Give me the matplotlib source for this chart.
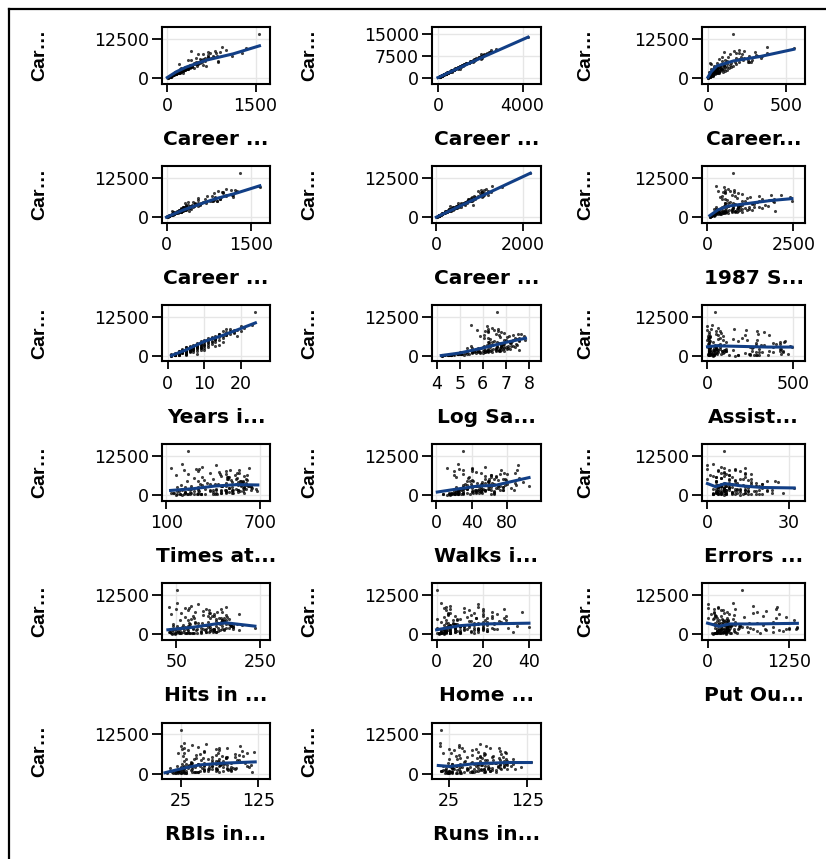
import numpy as np
import matplotlib
matplotlib.use("Agg")
import matplotlib.pyplot as plt
from matplotlib.lines import Line2D

years = [14, 3, 11, 2, 11, 2, 3, 2, 13, 10,
         9, 4, 6, 13, 15, 5, 8, 1, 1, 20,
         23, 17, 16, 17, 18, 14, 10, 12, 11, 13,
         9, 5, 5, 14, 13, 14, 8, 5, 6, 9,
         8, 1, 2, 1, 3, 4, 6, 7, 8, 9,
         10, 12, 13, 14, 16, 15, 17, 18, 19, 20,
         5, 6, 7, 4, 3, 2, 5, 6, 8, 9,
         10, 11, 12, 7, 3, 2, 1, 1, 4, 3,
         5, 6, 8, 10, 11, 12, 13, 14, 15, 9,
         10, 8, 6, 7, 11, 4, 2, 3, 16, 18,
         21, 19, 16, 12, 9, 7, 5, 3, 2, 1,
         6, 8, 13, 4, 5, 10, 15, 11, 3, 6, 24,
         2, 3, 4, 5, 1, 2, 3, 4, 6, 7,
         5, 4, 3, 2, 6, 7, 8, 9, 5, 4,
         3, 2, 1, 1, 6, 5, 8, 7, 6, 9,
         10, 4, 3, 2, 5, 7, 8, 3, 4, 6]
career_at_bat = [3449, 1624, 5628, 396, 4408, 214, 509, 341, 5206, 4631,
                 1876, 1512, 1941, 3231, 8068, 479, 727, 413, 426, 9528,
                 9778, 8759, 8750, 8128, 8247, 7023, 5017, 5686, 5079, 6521,
                 4880, 2028, 2950, 7127, 5429, 6675, 3112, 2810, 3210, 4000,
                 3800, 600, 700, 236, 1000, 1400, 2400, 2800, 3400, 3700,
                 3900, 4900, 5500, 6000, 6700, 5800, 7200, 7600, 8400, 7900,
                 1900, 1800, 2100, 1300, 900, 600, 1600, 2600, 2200, 3000,
                 2500, 4200, 4400, 3300, 1200, 800, 300, 160, 900, 700,
                 1100, 1500, 1700, 3100, 3600, 3900, 4600, 5200, 6300, 4200,
                 4700, 3500, 2300, 2700, 5300, 1600, 550, 1400, 6900, 7400,
                 9000, 6500, 7800, 6200, 2600, 1200, 700, 450, 300, 200,
                 3000, 4100, 5900, 2200, 2300, 2000, 4600, 3000, 1300, 2200, 14053,
                 580, 1100, 1700, 2100, 320, 450, 1300, 1500, 2000, 2400,
                 1400, 1000, 600, 350, 1700, 2600, 2900, 2700, 1800, 1200,
                 800, 700, 250, 400, 2500, 1500, 3000, 1900, 1200, 3300,
                 3500, 1900, 1600, 900, 800, 3500, 2500, 500, 1400, 2800]
career_hits = [835, 457, 1575, 101, 1133, 42, 108, 86, 1332, 1300,
               467, 392, 510, 825, 2273, 102, 180, 92, 109, 2510,
               2732, 2452, 2558, 2042, 2198, 1925, 1481, 1519, 1447, 2024,
               1237, 684, 1046, 2032, 1640, 2095, 928, 803, 927, 1100,
               1100, 144, 180, 56, 270, 360, 640, 740, 930, 1000,
               1050, 1330, 1500, 1650, 1800, 1620, 1950, 2100, 2300, 2150,
               500, 450, 560, 340, 240, 150, 430, 720, 560, 800,
               640, 1150, 1220, 920, 330, 210, 75, 40, 210, 170,
               270, 380, 420, 820, 950, 1060, 1280, 1420, 1750, 1180,
               1320, 980, 640, 770, 1500, 460, 145, 400, 1900, 2050,
               2400, 1700, 2200, 1750, 680, 290, 160, 110, 72, 48,
               830, 1200, 1700, 650, 600, 510, 1230, 780, 370, 620, 4256,
               150, 300, 470, 570, 82, 112, 360, 390, 540, 630,
               350, 250, 150, 90, 440, 700, 790, 700, 480, 310,
               200, 185, 62, 100, 700, 420, 810, 490, 290, 900,
               930, 530, 440, 240, 190, 980, 650, 125, 370, 780]
career_home_runs = [69, 63, 225, 12, 19, 1, 0, 6, 253, 90,
                    15, 41, 4, 36, 177, 5, 24, 16, 3, 548,
                    379, 229, 167, 378, 100, 348, 275, 257, 265, 341,
                    16, 93, 36, 322, 122, 209, 53, 84, 133, 100,
                    80, 33, 15, 6, 20, 25, 80, 60, 120, 60,
                    160, 150, 90, 200, 130, 110, 260, 140, 300, 200,
                    40, 20, 70, 10, 30, 5, 60, 40, 30, 100,
                    50, 80, 180, 40, 35, 12, 2, 3, 15, 10,
                    20, 15, 35, 60, 110, 40, 120, 200, 230, 140,
                    60, 150, 30, 120, 170, 50, 20, 15, 90, 310,
                    200, 180, 220, 70, 90, 25, 8, 4, 8, 1,
                    20, 100, 280, 45, 110, 25, 100, 60, 30, 70, 160,
                    10, 25, 35, 50, 4, 2, 20, 30, 45, 60,
                    30, 8, 12, 8, 25, 50, 90, 60, 70, 15,
                    6, 18, 2, 10, 35, 10, 40, 45, 20, 80,
                    50, 60, 40, 30, 10, 90, 40, 5, 45, 70]
career_runs = [321, 224, 828, 48, 501, 30, 41, 32, 784, 702,
               192, 205, 309, 376, 1045, 65, 67, 72, 55, 1509,
               1272, 1028, 1088, 1249, 950, 1196, 814, 761, 793, 1063,
               655, 335, 486, 1102, 854, 1072, 561, 457, 529, 650,
               850, 85, 90, 41, 120, 180, 320, 370, 470, 500,
               560, 680, 720, 800, 870, 730, 1020, 1000, 1200, 1050,
               240, 230, 280, 160, 120, 75, 230, 340, 260, 400,
               290, 560, 640, 480, 160, 110, 35, 20, 100, 85,
               120, 190, 200, 380, 460, 500, 610, 700, 880, 620,
               690, 520, 380, 400, 770, 240, 80, 210, 950, 1080,
               1150, 820, 1100, 900, 330, 140, 80, 50, 35, 25,
               440, 640, 880, 330, 310, 240, 560, 360, 170, 320, 2165,
               70, 140, 220, 280, 40, 55, 170, 190, 260, 310,
               170, 120, 70, 45, 210, 340, 380, 330, 250, 150,
               100, 90, 30, 52, 360, 220, 400, 230, 140, 440,
               470, 270, 220, 120, 95, 500, 300, 60, 180, 400]
career_rbi = [414, 266, 838, 46, 336, 9, 37, 34, 890, 504,
              186, 204, 103, 290, 993, 23, 82, 48, 43, 1659,
              1652, 1221, 1148, 1230, 909, 1166, 903, 956, 828, 1189,
              391, 404, 331, 1189, 850, 1050, 296, 317, 472, 450,
              350, 117, 80, 19, 110, 150, 330, 320, 480, 430,
              600, 650, 560, 860, 800, 680, 1050, 850, 1250, 1000,
              230, 170, 290, 110, 130, 50, 250, 280, 230, 420,
              300, 500, 700, 310, 170, 85, 25, 15, 95, 70,
              120, 140, 210, 350, 480, 380, 620, 780, 960, 600,
              470, 560, 220, 430, 800, 220, 85, 140, 720, 1150,
              1050, 870, 1000, 560, 360, 130, 60, 40, 38, 18,
              260, 500, 950, 270, 350, 200, 560, 340, 170, 320, 1314,
              60, 130, 200, 270, 30, 35, 150, 180, 240, 300,
              160, 90, 65, 40, 180, 300, 400, 310, 260, 120,
              70, 90, 22, 45, 250, 120, 320, 230, 130, 410,
              340, 270, 210, 130, 80, 460, 250, 45, 200, 360]
career_walks = [375, 263, 354, 33, 194, 24, 12, 8, 866, 488,
                161, 203, 207, 238, 732, 39, 56, 65, 62, 1342,
                925, 817, 395, 1270, 690, 1105, 596, 572, 521, 486,
                559, 131, 360, 837, 867, 695, 450, 222, 313, 500,
                650, 65, 50, 21, 90, 140, 200, 240, 330, 300,
                420, 520, 640, 560, 700, 410, 780, 520, 900, 820,
                170, 180, 200, 95, 80, 40, 210, 220, 250, 330,
                280, 380, 450, 390, 120, 70, 24, 12, 70, 60,
                110, 120, 180, 280, 350, 420, 500, 560, 640, 400,
                460, 420, 270, 290, 480, 200, 50, 130, 800, 700,
                1000, 750, 600, 600, 300, 120, 65, 35, 20, 15,
                300, 600, 620, 230, 240, 230, 520, 360, 110, 220, 1566,
                55, 100, 150, 210, 28, 30, 130, 160, 220, 260,
                150, 80, 50, 30, 190, 280, 320, 290, 190, 110,
                60, 60, 18, 38, 300, 150, 300, 200, 140, 350,
                400, 180, 170, 100, 75, 380, 240, 40, 150, 310]
at_bat = [315, 479, 496, 321, 594, 185, 298, 323, 401, 574,
          202, 418, 239, 196, 568, 190, 127, 413, 426, 419,
          200, 127, 629, 507, 311, 552, 495, 490, 614, 618,
          514, 677, 580, 565, 551, 441, 580, 627, 627, 584,
          608, 600, 450, 236, 400, 520, 500, 460, 550, 380,
          480, 340, 280, 450, 240, 330, 380, 300, 290, 210,
          550, 380, 420, 310, 480, 450, 520, 640, 260, 460,
          170, 520, 580, 610, 570, 530, 300, 160, 250, 220,
          220, 300, 200, 330, 410, 360, 300, 490, 540, 590,
          620, 570, 650, 600, 550, 560, 480, 680, 480, 440,
          330, 160, 480, 600, 220, 180, 150, 170, 210, 200,
          630, 560, 500, 590, 500, 250, 230, 260, 590, 300, 237,
          420, 500, 560, 600, 320, 350, 480, 400, 350, 300,
          280, 220, 260, 280, 450, 520, 480, 330, 530, 380,
          300, 520, 250, 400, 600, 480, 450, 260, 170, 560,
          430, 610, 640, 560, 140, 570, 300, 230, 450, 640]
hits = [81, 130, 141, 87, 169, 37, 73, 81, 92, 159,
        53, 113, 60, 43, 158, 46, 32, 92, 109, 101,
        51, 32, 168, 122, 81, 160, 151, 125, 163, 200,
        144, 238, 207, 148, 171, 128, 194, 178, 177, 157,
        160, 144, 120, 56, 110, 140, 130, 120, 150, 95,
        125, 85, 70, 115, 62, 90, 95, 78, 70, 50,
        150, 90, 110, 78, 130, 120, 138, 180, 64, 118,
        42, 145, 160, 170, 155, 145, 75, 40, 60, 55,
        50, 76, 48, 84, 102, 96, 78, 130, 140, 165,
        175, 150, 185, 160, 158, 165, 128, 200, 130, 115,
        85, 38, 128, 170, 52, 42, 35, 42, 50, 48,
        180, 165, 135, 185, 125, 60, 58, 66, 165, 80, 52,
        110, 140, 160, 170, 82, 90, 135, 100, 90, 72,
        68, 55, 65, 72, 120, 145, 128, 80, 140, 98,
        78, 138, 62, 100, 180, 140, 120, 66, 40, 155,
        112, 175, 185, 150, 34, 160, 78, 58, 118, 185]
home_runs = [7, 18, 20, 10, 4, 1, 0, 6, 17, 21,
             4, 13, 0, 7, 20, 2, 8, 16, 3, 18,
             2, 4, 18, 29, 3, 37, 17, 24, 29, 20,
             0, 31, 8, 24, 13, 16, 9, 14, 25, 20,
             28, 33, 10, 6, 9, 12, 20, 14, 25, 5,
             22, 10, 3, 15, 5, 8, 12, 4, 12, 6,
             18, 3, 16, 2, 22, 4, 25, 10, 4, 22,
             5, 14, 30, 8, 20, 10, 2, 3, 6, 4,
             4, 3, 6, 8, 16, 2, 9, 24, 26, 27,
             9, 33, 6, 35, 22, 22, 18, 8, 6, 20,
             6, 5, 14, 5, 10, 4, 2, 2, 6, 1,
             3, 15, 30, 14, 40, 3, 7, 6, 18, 12, 0,
             8, 15, 18, 20, 4, 1, 10, 12, 8, 10,
             6, 2, 6, 6, 8, 12, 20, 6, 26, 5,
             3, 15, 2, 10, 8, 3, 6, 8, 3, 18,
             4, 24, 20, 22, 3, 18, 5, 3, 16, 16]
runs = [24, 66, 65, 39, 74, 23, 24, 26, 49, 107,
        31, 48, 30, 29, 89, 24, 16, 72, 55, 65,
        14, 14, 73, 78, 42, 97, 61, 81, 89, 98,
        67, 117, 107, 90, 94, 70, 91, 68, 98, 95,
        130, 85, 60, 41, 55, 70, 60, 62, 80, 45,
        65, 40, 35, 55, 28, 38, 45, 32, 38, 25,
        75, 48, 52, 36, 62, 58, 75, 88, 30, 62,
        18, 72, 82, 100, 85, 78, 35, 20, 30, 26,
        22, 38, 22, 40, 55, 46, 36, 65, 72, 90,
        98, 85, 105, 90, 80, 92, 70, 110, 62, 55,
        38, 18, 60, 92, 25, 20, 17, 22, 24, 25,
        95, 100, 70, 95, 75, 28, 26, 30, 80, 40, 15,
        55, 68, 80, 88, 40, 45, 65, 50, 42, 35,
        32, 26, 30, 36, 62, 72, 66, 38, 76, 48,
        40, 72, 30, 52, 95, 70, 58, 30, 18, 78,
        54, 90, 100, 78, 16, 84, 36, 28, 58, 100]
rbi = [38, 72, 78, 42, 51, 8, 24, 32, 66, 75,
       26, 61, 11, 27, 75, 8, 22, 48, 43, 58,
       29, 25, 102, 85, 30, 119, 84, 105, 83, 110,
       54, 113, 71, 104, 83, 73, 62, 76, 81, 73,
       74, 117, 55, 19, 50, 60, 75, 55, 90, 38,
       80, 45, 28, 70, 30, 45, 55, 35, 47, 27,
       70, 30, 62, 25, 80, 40, 85, 65, 28, 78,
       20, 65, 100, 55, 86, 60, 25, 15, 32, 22,
       24, 28, 26, 38, 66, 30, 42, 85, 95, 98,
       60, 108, 50, 115, 95, 88, 74, 70, 55, 75,
       40, 22, 70, 50, 30, 18, 12, 14, 26, 18,
       48, 70, 100, 80, 110, 25, 32, 32, 90, 44, 25,
       48, 72, 85, 90, 30, 28, 55, 55, 40, 38,
       30, 20, 30, 32, 52, 65, 76, 36, 92, 38,
       28, 70, 22, 45, 55, 40, 48, 34, 20, 82,
       40, 96, 95, 90, 18, 80, 34, 22, 66, 85]
walks = [39, 76, 37, 30, 35, 21, 7, 8, 65, 59,
         27, 47, 22, 30, 73, 15, 14, 65, 62, 92,
         25, 12, 40, 91, 26, 89, 78, 62, 75, 62,
         79, 53, 105, 77, 94, 80, 78, 46, 70, 63,
         89, 65, 35, 21, 40, 45, 40, 48, 60, 32,
         55, 40, 36, 55, 30, 22, 50, 20, 40, 30,
         48, 44, 50, 25, 45, 30, 72, 50, 32, 70,
         22, 52, 60, 90, 55, 52, 24, 12, 22, 20,
         26, 25, 28, 35, 50, 46, 38, 55, 62, 58,
         70, 80, 85, 75, 60, 88, 45, 65, 72, 45,
         55, 20, 40, 68, 30, 20, 18, 14, 16, 15,
         60, 98, 68, 70, 68, 35, 42, 40, 42, 30, 30,
         42, 50, 55, 60, 28, 25, 50, 45, 35, 35,
         30, 22, 25, 24, 55, 62, 58, 36, 62, 40,
         30, 48, 18, 38, 75, 52, 45, 30, 24, 64,
         52, 58, 75, 65, 16, 65, 30, 20, 48, 72]
put_outs = [632, 880, 200, 805, 282, 76, 121, 143, 0, 238,
            304, 211, 121, 80, 105, 102, 202, 280, 361, 0,
            398, 167, 1067, 1050, 153, 105, 1045, 849, 301, 330,
            229, 1377, 121, 292, 1199, 97, 280, 309, 240, 276,
            426, 319, 240, 450, 760, 320, 200, 110, 300, 170,
            1000, 90, 560, 110, 690, 120, 760, 200, 0, 420,
            300, 170, 650, 190, 1150, 260, 1200, 360, 530, 280,
            340, 250, 1320, 360, 330, 280, 135, 290, 400, 620,
            150, 140, 470, 160, 760, 230, 180, 100, 1100, 320,
            390, 1180, 300, 270, 140, 1250, 270, 320, 250, 900,
            700, 60, 240, 410, 480, 230, 180, 120, 350, 80,
            420, 150, 130, 300, 1000, 300, 320, 500, 1100, 1378, 523,
            250, 300, 320, 1250, 200, 190, 290, 700, 220, 600,
            180, 140, 420, 180, 260, 300, 850, 160, 400, 200,
            150, 1000, 150, 230, 330, 270, 250, 480, 300, 310,
            200, 340, 1350, 300, 260, 120, 500, 130, 900, 380]
assists = [43, 82, 11, 40, 421, 127, 283, 290, 0, 445,
           45, 11, 151, 45, 290, 177, 22, 9, 22, 0,
           29, 18, 157, 73, 223, 292, 88, 71, 6, 16,
           453, 100, 267, 9, 149, 218, 13, 492, 482, 421,
           4, 4, 8, 40, 50, 10, 300, 250, 10, 310,
           70, 180, 60, 6, 62, 200, 50, 330, 0, 50,
           8, 360, 60, 300, 90, 430, 110, 14, 55, 12,
           40, 380, 105, 8, 7, 470, 250, 30, 45, 55,
           10, 260, 40, 8, 60, 400, 6, 230, 90, 10,
           12, 95, 420, 6, 290, 85, 6, 440, 360, 80,
           60, 5, 10, 12, 50, 20, 240, 270, 30, 160,
           5, 280, 5, 430, 70, 30, 30, 50, 95, 110, 43,
           12, 8, 10, 95, 300, 350, 380, 55, 8, 50,
           280, 220, 40, 5, 420, 6, 70, 260, 12, 320,
           250, 80, 10, 8, 10, 440, 380, 40, 30, 9,
           330, 12, 110, 7, 25, 280, 50, 180, 60, 15]
errors = [10, 14, 3, 4, 25, 7, 9, 19, 0, 22,
          11, 7, 6, 8, 10, 16, 2, 5, 2, 0,
          2, 6, 14, 8, 10, 14, 13, 9, 8, 8,
          15, 6, 19, 5, 5, 16, 3, 5, 13, 11,
          6, 14, 3, 5, 7, 4, 15, 18, 6, 20,
          8, 10, 5, 2, 7, 14, 6, 12, 0, 4,
          2, 22, 12, 17, 9, 24, 11, 6, 8, 4,
          4, 16, 10, 5, 6, 28, 15, 6, 9, 7,
          3, 14, 6, 4, 5, 18, 3, 16, 8, 3,
          8, 9, 20, 4, 12, 7, 5, 15, 14, 6,
          5, 1, 4, 6, 9, 3, 11, 13, 7, 12,
          4, 26, 3, 32, 6, 4, 3, 5, 10, 8, 6,
          4, 5, 6, 10, 18, 20, 22, 8, 3, 6,
          15, 12, 6, 2, 19, 5, 7, 14, 5, 18,
          14, 9, 2, 4, 4, 24, 18, 6, 4, 4,
          16, 6, 12, 5, 3, 20, 8, 10, 6, 7]
salary = [475, 480, 500, 91.5, 750, 70, 100, 75, 1100, 517,
          512.5, 550, 700, 240, 775, 175, 135, 100, 115, 487.5,
          237.5, 500, 776, 500, 320, 2127, 2460, 1925, 1900, 2412,
          1940, 1975, 1600, 1861, 1800, 1500, 1500, 740, 1350, 1000,
          1670, 165, 110, 87.5, 150, 350, 625, 425, 900, 600,
          950, 650, 560, 850, 420, 425, 700, 500, 650, 450,
          800, 325, 575, 250, 350, 150, 800, 1000, 300, 875,
          200, 800, 1300, 1200, 450, 225, 75, 68, 190, 160,
          250, 275, 340, 425, 750, 520, 600, 1000, 1250, 1350,
          1450, 1750, 950, 1200, 1500, 1000, 160, 600, 800, 1000,
          600, 350, 900, 1150, 250, 150, 110, 90, 95, 70,
          900, 1300, 1600, 1150, 1300, 420, 500, 400, 500, 700, 750,
          140, 300, 500, 800, 80, 100, 325, 300, 450, 500,
          275, 160, 130, 90, 475, 700, 750, 375, 700, 250,
          140, 200, 70, 90, 850, 400, 550, 260, 200, 950,
          600, 900, 850, 400, 110, 875, 325, 100, 450, 1100]
log_salary = np.log(salary)

# smoothed trend of each panel: (x knots, y knots)
fit_cwalks = ([0, 150, 325, 665, 1120, 1566], [200, 2000, 3550, 5750, 7750, 10300])
fit_chits = ([0, 2000, 4256], [0, 6700, 14000])
fit_chmrun = ([0, 20, 57, 164, 334, 548], [300, 2000, 3900, 5500, 6900, 9200])
fit_crbi = ([0, 300, 860, 1250, 1659], [0, 2300, 5800, 7700, 10000])
fit_cruns = ([0, 2165], [0, 14000])
fit_salary = ([68, 300, 590, 1090, 1840, 2460], [500, 2300, 3500, 4250, 5300, 5900])
fit_years = ([1, 5, 10, 15, 20, 24], [200, 2000, 4700, 6600, 8800, 10600])
fit_logsal = ([4.2, 5, 6, 7, 7.85], [200, 1000, 2600, 4400, 5700])
fit_assists = ([0, 50, 200, 350, 492], [3000, 3300, 3100, 2900, 2900])
fit_atbat = ([127, 270, 410, 553, 687], [1500, 2050, 2900, 3350, 3250])
fit_walks = ([1, 27, 47, 67, 80, 105], [1000, 2100, 2900, 3150, 4000, 5600])
fit_errors = ([0, 3, 6.5, 12, 20, 32], [3700, 2700, 3700, 3000, 2450, 2300])
fit_hits = ([30, 90, 143, 170, 238], [1400, 2200, 3250, 3600, 2550])
fit_hmrun = ([0, 10, 20, 40], [1400, 2700, 3250, 3500])
fit_putouts = ([0, 180, 340, 700, 1378], [3500, 2500, 3250, 3250, 3450])
fit_rbi = ([5, 28, 50, 80, 121], [300, 1700, 2800, 3350, 3750])
fit_runs = ([12, 27, 57, 100, 130], [2600, 2300, 3150, 3550, 3550])

panels = [
    ("Career ...", career_walks, [0, 1500], (-90, 1745), fit_cwalks),
    ("Career ...", career_hits, [0, 4000], (-280, 4850), fit_chits),
    ("Career...", career_home_runs, [0, 500], (-38, 620), fit_chmrun),
    ("Career ...", career_rbi, [0, 1500], (-80, 1840), fit_crbi),
    ("Career ...", career_runs, [0, 2000], (-100, 2400), fit_cruns),
    ("1987 S...", salary, [0, 2500], (-160, 2840), fit_salary),
    ("Years i...", years, [0, 10, 20], (-1.6, 28), fit_years),
    ("Log Sa...", log_salary, [4, 5, 6, 7, 8], (3.8, 8.5), fit_logsal),
    ("Assist...", assists, [0, 500], (-32, 568), fit_assists),
    ("Times at...", at_bat, [100, 700], (72, 765), fit_atbat),
    ("Walks i...", walks, [0, 40, 80], (-5, 118), fit_walks),
    ("Errors ...", errors, [0, 30], (-2, 36), fit_errors),
    ("Hits in ...", hits, [50, 250], (16, 274), fit_hits),
    ("Home ...", home_runs, [0, 20, 40], (-2, 45), fit_hmrun),
    ("Put Ou...", put_outs, [0, 1250], (-85, 1495), fit_putouts),
    ("RBIs in...", rbi, [25, 125], (1.2, 140), fit_rbi),
    ("Runs in...", runs, [25, 125], (4, 142), fit_runs),
]

W, H = 826, 859
fig = plt.figure(figsize=(W / 100, H / 100), dpi=100)
col_left = [162, 432, 702]
col_width = [108, 108.5, 103]
row_top = [27, 166, 305, 444, 583, 722.5]
ax_h = 56.5

for i, (label, xs, ticks, xlim, fit) in enumerate(panels):
    r, c = divmod(i, 3)
    ax = fig.add_axes([col_left[c] / W, 1 - (row_top[r] + ax_h) / H,
                       col_width[c] / W, ax_h / H])
    ax.scatter(xs, career_at_bat, s=5, c="black", alpha=0.75,
               linewidths=0, zorder=2)
    ax.plot(fit[0], fit[1], color="#123f86", lw=2.2, zorder=3)
    ax.set_xlim(*xlim)
    ax.set_xticks(ticks)
    if i == 1:
        ax.set_ylim(-2040, 17520)
        ax.set_yticks([0, 7500, 15000])
    else:
        ax.set_ylim(-1700, 16300)
        ax.set_yticks([0, 12500])
    ax.grid(True, color="#e6e6e6", lw=1)
    ax.set_axisbelow(True)
    for sp in ax.spines.values():
        sp.set_linewidth(1.5)
    ax.tick_params(axis="x", length=6, width=1.3, labelsize=12.5, pad=3.5)
    ax.tick_params(axis="y", length=7, width=1.3, labelsize=12.5, pad=2.5)
    ax.set_xlabel(label, fontsize=14.5, fontweight="bold")
    ax.xaxis.set_label_coords(0.5, -0.82)
    ax.set_ylabel("Car…", fontsize=14, fontweight="bold",
                  family=["Liberation Sans", "DejaVu Sans"])
    ax.yaxis.set_label_coords(-1.05, 0.5)

# frame lines along the left and top edges
fig.add_artist(Line2D([9 / W, 9 / W], [0, 1 - 9 / H], transform=fig.transFigure,
                      color="black", lw=1.6))
fig.add_artist(Line2D([9 / W, 1], [1 - 9 / H, 1 - 9 / H], transform=fig.transFigure,
                      color="black", lw=1.6))

fig.savefig("out.png", dpi=100)
